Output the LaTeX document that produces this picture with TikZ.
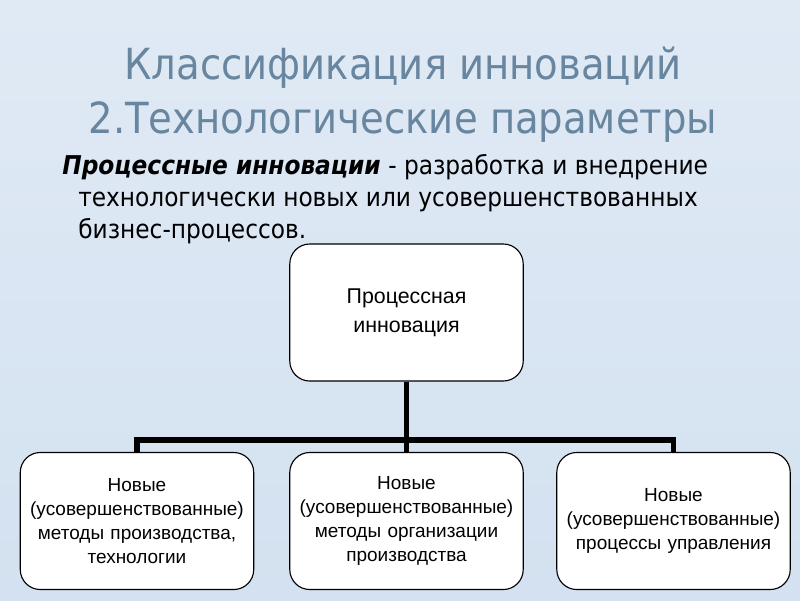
\documentclass[tikz,border=0pt]{standalone}
\usepackage{fontspec}
\setmainfont{Liberation Sans}
\newfontfamily\slidefont{DejaVu Sans Condensed}
\usetikzlibrary{positioning}

\definecolor{bgtop}{RGB}{224,234,245}
\definecolor{bgbot}{RGB}{211,225,240}
\definecolor{titleblue}{RGB}{104,134,160}

\begin{document}
\begin{tikzpicture}[x=0.025cm,y=-0.025cm,
  box/.style={draw=black,line width=0.8pt,fill=white,rounded corners=0.5cm,
    minimum width=5.775cm,minimum height=3.425cm,text width=5.6cm,align=center,
    font=\fontsize{13.5}{17}\selectfont},
  bar/.style={line width=3.6pt}]
\shade[top color=bgtop,bottom color=bgbot] (0,0) rectangle (800,600);
\useasboundingbox (0,0) rectangle (800,600);

\node[font=\slidefont\fontsize{30.5}{38.4}\selectfont,text=titleblue,align=center] (title) at (403,95)
  {Классификация инноваций\\2.Технологические параметры};
\node[anchor=north west,inner sep=0,align=left,font=\slidefont\fontsize{18.4}{22.8}\selectfont] (def) at (62,154)
  {\textbf{\textit{Процессные инновации}} - разработка и внедрение\\
   \hspace*{0.4cm}технологически новых или усовершенствованных\\
   \hspace*{0.4cm}бизнес-процессов.};

\node[box,font=\fontsize{15.2}{20.6}\selectfont] (proc) at (406.5,312.5) {Процессная\\инновация};
\node[box] (meth) at (137,521) {Новые\\(усовершенствованные)\\методы производства,\\технологии};
\node[box] (org) at (406.5,521) {Новые\\(усовершенствованные)\\методы организации\\производства};
\node[box] (mgmt) at (673.5,521) {Новые\\(усовершенствованные)\\процессы управления};

\coordinate (bus) at (406.5,440);
\draw[bar] (proc.south) -- (org.north);
\draw[bar] (meth.north) |- (bus) -| (mgmt.north);
\end{tikzpicture}
\end{document}
